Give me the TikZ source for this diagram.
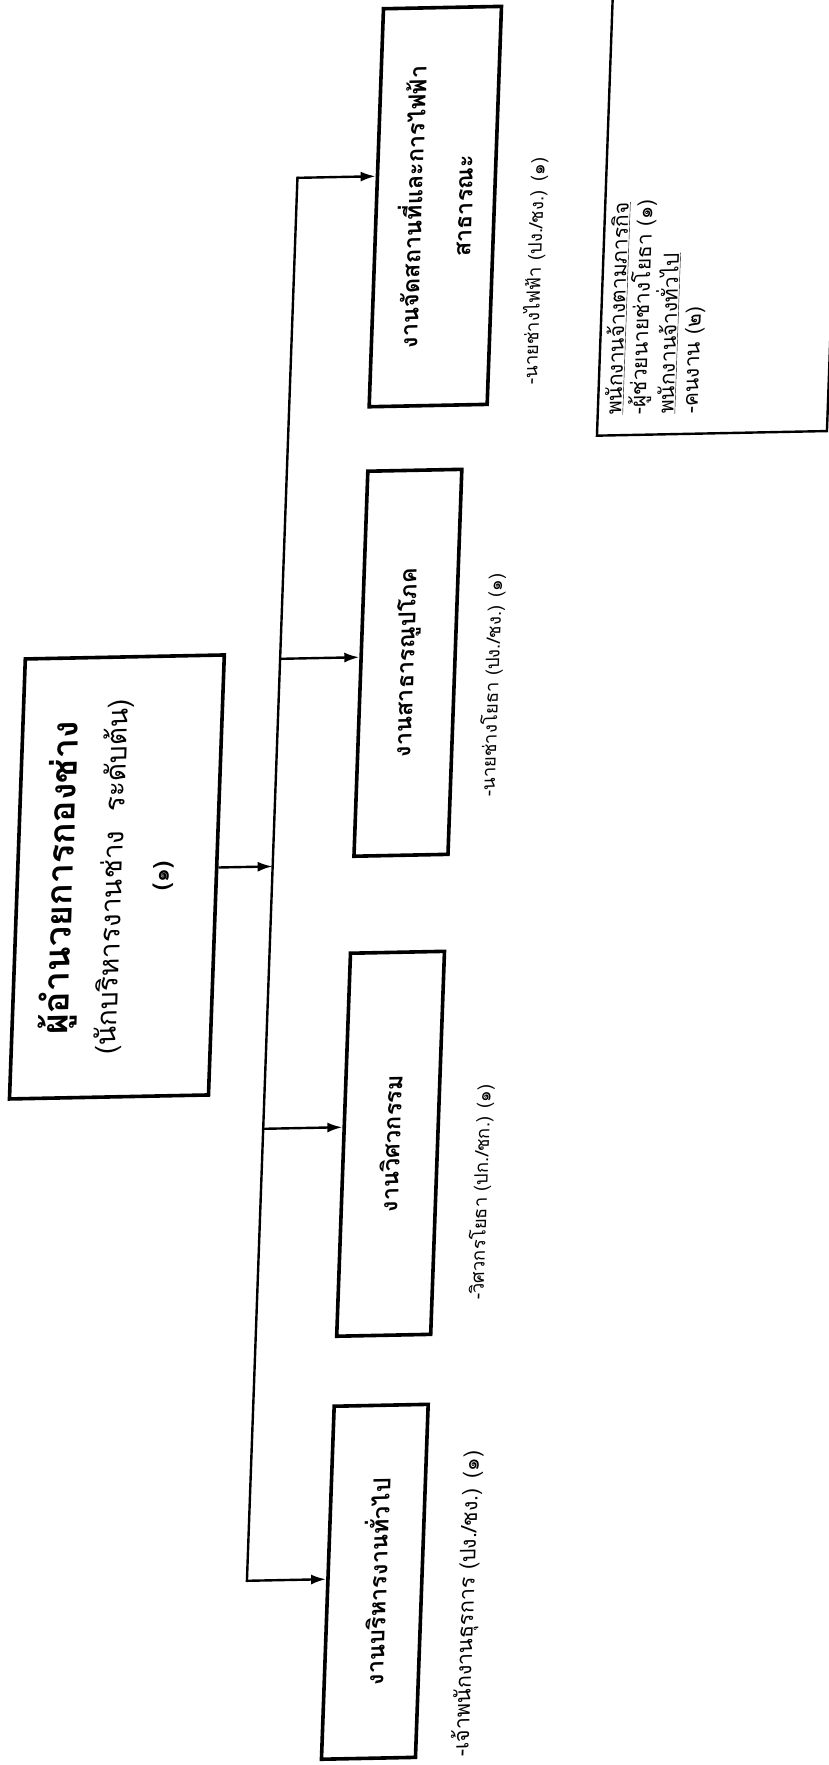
\documentclass[tikz,border=0pt]{standalone}
\usepackage{fontspec}
\newfontfamily\thai[Script=Thai]{Loma}
\usetikzlibrary{arrows.meta}
\begin{document}
\begin{tikzpicture}[x=1pt,y=-1pt,
  orgbox/.style={draw, line width=3.6pt, rotate=90, align=center, inner sep=0pt},
  conn/.style={line width=2.4pt},
  arr/.style={conn, -{Latex[length=15pt,width=10pt]}},
  lbl/.style={rotate=90, anchor=west, inner sep=0pt, font=\thai\fontsize{18.5}{22}\selectfont},
  ttl/.style={font=\thai\bfseries\fontsize{23.5}{50}\selectfont},
]
\fill[white] (0,0) rectangle (828,1765);
\useasboundingbox (0,0) rectangle (828,1765);
\begin{scope}[cm={1,0.02,0.036,1,(31.75pt,-8.28pt)}, transform shape]
\node[orgbox, minimum width=440pt, minimum height=199pt, font=\thai\fontsize{28}{47}\selectfont] (main) at (116.5,871)
  {{\bfseries\fontsize{36}{47}\selectfont ผู้อำนวยการกองช่าง}\\[2pt](นักบริหารงานช่าง\ \ ระดับต้น)\\{\bfseries\fontsize{22}{47}\selectfont (๑)}\\[-25pt]\mbox{}};
\node[orgbox, ttl, minimum width=398pt, minimum height=118pt] (b1) at (411,206.5) {งานจัดสถานที่และการไฟฟ้า\\สาธารณะ};
\node[orgbox, ttl, minimum width=385pt, minimum height=94pt] (b2) at (400,662.5) {งานสาธารณูปโภค};
\node[orgbox, ttl, minimum width=383pt, minimum height=94pt] (b3) at (400,1143.5) {งานวิศวกรรม};
\node[orgbox, ttl, minimum width=353pt, minimum height=94pt] (b4) at (400,1581.5) {งานบริหารงานทั่วไป};
\node[lbl] (l1) at (512.6,387) {-นายช่างไฟฟ้า (ปง./ชง.) (๑)};
\node[lbl] (l2) at (485,798.4) {-นายช่างโยธา (ปง./ชง.) (๑)};
\node[lbl] (l3) at (492,1301.6) {-วิศวกรโยธา (ปก./ชก.) (๑)};
\node[lbl, font=\thai\fontsize{21.5}{24}\selectfont] (l4) at (493.6,1758.6) {-เจ้าพนักงานธุรการ (ปง./ชง.) (๑)};
\draw[line width=2.4pt] (581,-40) rectangle (811,439);
\node[rotate=90, anchor=west, align=left, inner sep=0pt, font=\thai\fontsize{21}{24}\selectfont] (rtext) at (636,419)
  {\underline{พนักงานจ้างตามภารกิจ}\\-ผู้ช่วยนายช่างโยธา (๑)\\\underline{พนักงานจ้างทั่วไป}\\-คนงาน (๒)};
\coordinate (t1) at (272,175);
\coordinate (t2) at (272,656);
\coordinate (t3) at (272,1126);
\coordinate (t4) at (272,1578);
\coordinate (tm) at (272,863.6);
\draw[conn, line cap=rect] (t1) -- (t4);
\draw[arr] (t1) -- (t1 -| b1.north);
\draw[arr] (t2) -- (t2 -| b2.north);
\draw[arr] (t3) -- (t3 -| b3.north);
\draw[arr] (t4) -- (t4 -| b4.north);
\draw[arr] (tm -| main.south) -- (tm);
\end{scope}
\end{tikzpicture}
\end{document}
